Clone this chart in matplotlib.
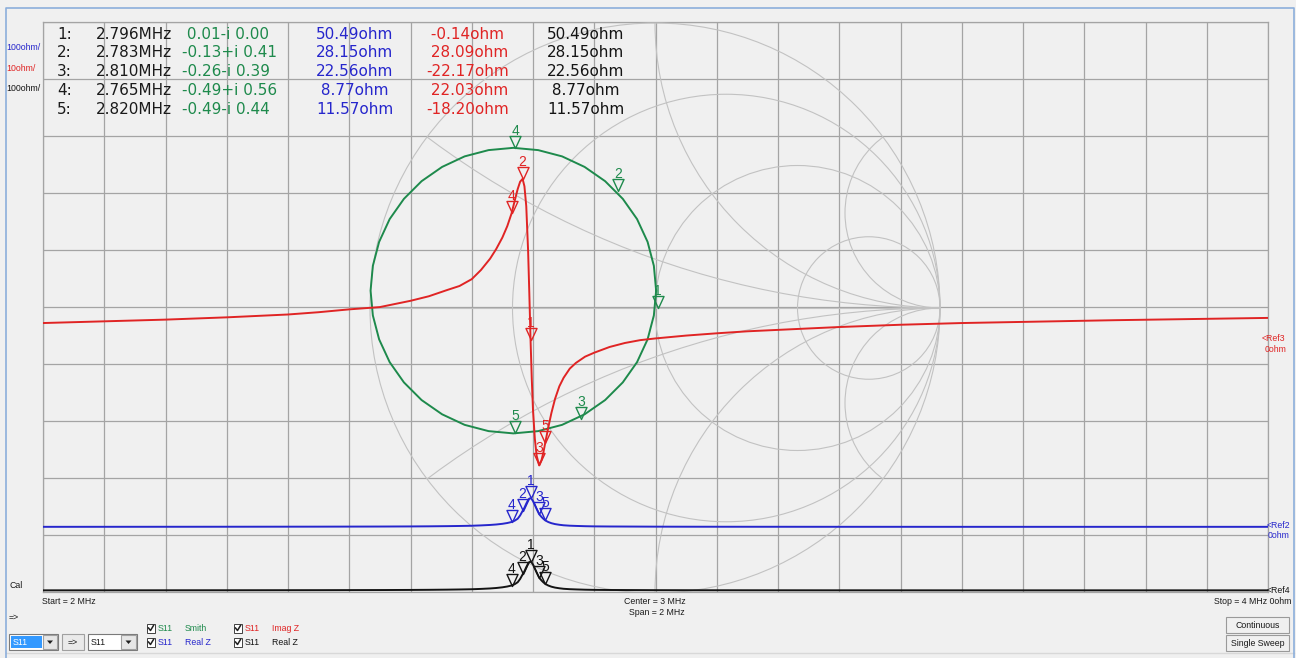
import numpy as np
import matplotlib
matplotlib.use('Agg')
import matplotlib.pyplot as plt
from matplotlib.patches import Circle, Rectangle, Polygon
from matplotlib.path import Path
from matplotlib.lines import Line2D

W, H = 1296, 658

# sweep 2..4 MHz
freq_mhz = [2.00, 2.10, 2.20, 2.30, 2.40, 2.45, 2.50, 2.55, 2.60, 2.63,
            2.66, 2.68, 2.70, 2.715, 2.73, 2.74, 2.75, 2.758, 2.765, 2.770,
            2.775, 2.779, 2.783, 2.786, 2.789, 2.792, 2.794, 2.796, 2.798, 2.800,
            2.803, 2.806, 2.810, 2.814, 2.817, 2.820, 2.825, 2.830, 2.836, 2.843,
            2.850, 2.86, 2.87, 2.885, 2.90, 2.925, 2.95, 2.975, 3.00, 3.05,
            3.10, 3.15, 3.20, 3.30, 3.40, 3.50, 3.75, 4.00]
imag_z = [2.8, 3.1, 3.4, 3.8, 4.3, 4.7, 5.2, 5.6, 6.7, 7.5,
          8.6, 9.3, 10.5, 12.1, 14.1, 15.8, 17.8, 19.8, 22.03, 24.2,
          26.3, 27.6, 28.09, 26.8, 23.3, 15.5, 8.0, -0.14, -7.0, -12.5,
          -17.5, -20.5, -22.17, -21.2, -19.9, -18.20, -15.5, -13.0, -10.5, -8.3,
          -6.8, -5.2, -4.2, -3.1, -2.4, -1.4, -0.7, -0.2, 0.1, 0.6,
          1.0, 1.35, 1.6, 2.1, 2.5, 2.8, 3.3, 3.7]
real_z = [0.3, 0.35, 0.4, 0.45, 0.55, 0.6, 0.7, 0.8, 1.0, 1.2,
          1.5, 1.8, 2.2, 2.8, 3.6, 4.4, 5.6, 7.0, 8.77, 11.0,
          14.5, 20.3, 28.15, 33.8, 41.0, 47.3, 49.9, 50.49, 48.8, 45.5,
          38.4, 31.4, 22.56, 17.5, 14.3, 11.57, 8.7, 6.7, 5.1, 3.9,
          3.0, 2.3, 1.9, 1.4, 1.1, 0.9, 0.8, 0.7, 0.6, 0.5,
          0.45, 0.42, 0.4, 0.35, 0.33, 0.3, 0.3, 0.3]

# S11 on the smith chart (reflection coefficient)
smith_re = [0.004, -0.004, -0.026, -0.063, -0.113, -0.175, -0.247, -0.326, -0.410, -0.497,
            -0.584, -0.668, -0.747, -0.819, -0.881, -0.931, -0.968, -0.990, -0.998, -0.990,
            -0.968, -0.931, -0.881, -0.819, -0.747, -0.668, -0.584, -0.497, -0.410, -0.326,
            -0.247, -0.175, -0.113, -0.063, -0.026, -0.004, 0.004]
smith_im = [0.061, 0.148, 0.232, 0.312, 0.383, 0.445, 0.495, 0.532, 0.554, 0.562,
            0.554, 0.532, 0.495, 0.445, 0.383, 0.312, 0.232, 0.148, 0.061, -0.026,
            -0.110, -0.190, -0.261, -0.323, -0.373, -0.410, -0.432, -0.440, -0.432, -0.410,
            -0.373, -0.323, -0.261, -0.190, -0.110, -0.026, 0.061]

# markers 1..5
marker_freq = [2.796, 2.783, 2.810, 2.765, 2.820]
marker_g_re = [0.01, -0.13, -0.26, -0.49, -0.49]
marker_g_im = [-0.00, 0.41, -0.39, 0.56, -0.44]
marker_real = [50.49, 28.15, 22.56, 8.77, 11.57]
marker_imag = [-0.14, 28.09, -22.17, 22.03, -18.20]

smith_r = [1 / 3, 1, 3]
smith_x = [1 / 3, 1, 3]

bg = '#F0F0F0'
gridc = '#A4A4A4'
smithc = '#C2C2C2'
green = '#1E8A4C'
red = '#E02424'
blue = '#2626CC'
black = '#141414'
ui = 'Liberation Sans'


def fx(x):
    return x / W


def fy(y):
    return 1 - y / H


fig = plt.figure(figsize=(W / 100, H / 100), dpi=100, facecolor=bg)

# plot area in screen pixels
L, T, Rr, B = 43, 22, 1268, 592
rect = [fx(L), fy(B), (Rr - L) / W, (B - T) / H]

ax = fig.add_axes(rect)
ax.set_facecolor(bg)
ax.set_xlim(2, 4)
ax.set_ylim(0, 10)
ax.set_xticks(np.linspace(2, 4, 21))
ax.set_yticks(range(11))
ax.tick_params(length=0, labelbottom=False, labelleft=False)
ax.grid(True, color=gridc, lw=0.9)
for s in ax.spines.values():
    s.set_color(gridc)
    s.set_linewidth(0.9)

# smith chart overlay, center at 3 MHz / mid height
cx, cy, R = 655, 308, 285
axs = fig.add_axes(rect)
axs.set_xlim((L - cx) / R, (Rr - cx) / R)
axs.set_ylim((cy - B) / R, (cy - T) / R)
axs.axis('off')
axs.add_patch(Circle((0, 0), 1, fill=False, ec=smithc, lw=0.8))
for r in smith_r:
    axs.add_patch(Circle((r / (1 + r), 0), 1 / (1 + r), fill=False, ec=smithc, lw=0.8))
clip = Circle((0, 0), 1, transform=axs.transData)
for xv in smith_x:
    for sg in (1, -1):
        c = Circle((1, sg / xv), 1 / xv, fill=False, ec=smithc, lw=0.8)
        axs.add_patch(c)
        c.set_clip_path(clip)
axs.plot([-1, 1], [0, 0], color=smithc, lw=0.8)

tri = Path([(0, 0), (-0.46, 1), (0.46, 1), (0, 0)],
           [Path.MOVETO, Path.LINETO, Path.LINETO, Path.CLOSEPOLY])


def markers(a, xs, ys, col):
    a.plot(xs, ys, ls='none', marker=tri, ms=17.3, mfc='none', mec=col, mew=1.0, zorder=5)
    for i, (xv, yv) in enumerate(zip(xs, ys)):
        a.annotate(str(i + 1), (xv, yv), xytext=(0, 13), textcoords='offset pixels',
                   ha='center', va='baseline', color=col, fontsize=10, family=ui, zorder=6)


axs.plot(smith_re, smith_im, color=green, lw=1.4)
markers(axs, marker_g_re, marker_g_im, green)

# Imag Z: 10 ohm/div, ref at y=339
axr = fig.add_axes(rect)
axr.set_xlim(2, 4)
axr.set_ylim(-(B - 339) / 5.7, (339 - T) / 5.7)
axr.axis('off')
axr.plot(freq_mhz, imag_z, color=red, lw=1.4)
markers(axr, marker_freq, marker_imag, red)

# Real Z: 100 ohm/div, ref at y=527
axb = fig.add_axes(rect)
axb.set_xlim(2, 4)
axb.set_ylim(-(B - 527) / 0.57, (527 - T) / 0.57)
axb.axis('off')
axb.plot(freq_mhz, real_z, color=blue, lw=1.4)
markers(axb, marker_freq, marker_real, blue)

# Real Z again, ref at bottom
axk = fig.add_axes(rect)
axk.set_xlim(2, 4)
axk.set_ylim(-(B - 590.5) / 0.57, (590.5 - T) / 0.57)
axk.axis('off')
axk.plot(freq_mhz, real_z, color=black, lw=1.4)
markers(axk, marker_freq, marker_real, black)


def txt(x, y, s, col='#1A1A1A', size=6.3, ha='left', fam=ui, cap=0.716):
    # y is the visual middle of the capitals
    base = y + cap * size * 100 / 72 / 2
    fig.text(fx(x), fy(base), s, color=col, fontsize=size, ha=ha, va='baseline', family=fam)


# marker table
for i in range(5):
    y = 33 + 18.9 * i
    im = marker_g_im[i]
    sign = '-' if np.signbit(im) else '+'
    tf = dict(size=11, fam='DejaVu Sans', cap=0.73)
    txt(57, y, f"{i + 1}:", **tf)
    txt(96, y, f"{marker_freq[i]:.3f}MHz", **tf)
    txt(182, y, f"{marker_g_re[i]:5.2f}{sign}i {abs(im):.2f}", col=green, **tf)
    txt(316, y, f"{marker_real[i]:5.2f}ohm", col=blue, **tf)
    txt(426, y, f"{marker_imag[i]:6.2f}ohm", col=red, **tf)
    txt(547, y, f"{marker_real[i]:5.2f}ohm", col=black, **tf)

# scale labels
txt(6, 47, "100ohm/", col=blue)
txt(6, 68, "10ohm/", col=red)
txt(6, 88, "100ohm/", col=black)
txt(1262, 338, "<Ref3", col=red)
txt(1265, 349, "0ohm", col=red)
txt(1267, 525, "<Ref2", col=blue)
txt(1268, 535, "0ohm", col=blue)
txt(1267, 590, "<Ref4", col=black)

txt(9, 585, "Cal")
txt(42, 601, "Start = 2 MHz")
txt(655, 601, "Center = 3 MHz", ha='center')
txt(657, 612, "Span = 2 MHz", ha='center')
txt(1291, 601, "Stop = 4 MHz 0ohm", ha='right')
txt(9, 617, "=>")


def box(x0, y0, x1, y1, fc, ec, lw=0.8):
    fig.add_artist(Rectangle((fx(x0), fy(y1)), (x1 - x0) / W, (y1 - y0) / H,
                             transform=fig.transFigure, fc=fc, ec=ec, lw=lw))


def arrow(xc, yc):
    fig.add_artist(Polygon([(fx(xc - 3), fy(yc - 1.5)), (fx(xc + 3), fy(yc - 1.5)), (fx(xc), fy(yc + 2))],
                           closed=True, transform=fig.transFigure, fc='#202020', ec='none'))


def check(x, y, col1, lab1, lab2):
    box(x, y - 4.5, x + 8, y + 4.5, 'white', '#404040', 0.7)
    fig.add_artist(Line2D([fx(x + 1.5), fx(x + 3.5), fx(x + 6.5)], [fy(y), fy(y + 2.5), fy(y - 2.5)],
                          transform=fig.transFigure, color='#202020', lw=1.1))
    txt(x + 11, y, lab1, col=col1)
    txt(x + 38, y, lab2, col=col1)


check(147, 628, green, "S11", "Smith")
check(147, 642, blue, "S11", "Real Z")
check(234, 628, red, "S11", "Imag Z")
check(234, 642, black, "S11", "Real Z")

# combo boxes and buttons
box(9, 634, 58, 650, 'white', '#7A7A7A')
box(11, 636, 42, 648, '#3399FF', 'none')
txt(13, 642, "S11", col='white')
box(43, 635, 57, 649, '#E6E6E6', '#A0A0A0')
arrow(50, 642)
box(62, 634, 84, 650, '#EAEAEA', '#A0A0A0')
txt(73, 642, "=>", ha='center')
box(88, 634, 137, 650, 'white', '#7A7A7A')
txt(91, 642, "S11")
box(121, 635, 136, 649, '#E6E6E6', '#A0A0A0')
arrow(128.5, 642)

box(1226, 617, 1289, 633, '#F0F0F0', '#9A9A9A')
txt(1257.5, 625, "Continuous", ha='center')
box(1226, 635, 1289, 651, '#F0F0F0', '#9A9A9A')
txt(1257.5, 643, "Single Sweep", ha='center')

# window frame
fig.add_artist(Line2D([fx(6), fx(1294)], [fy(653), fy(653)], transform=fig.transFigure, color='#D8D8D8', lw=1))
fig.add_artist(Line2D([fx(6), fx(6), fx(1294), fx(1294)], [fy(658), fy(8), fy(8), fy(658)],
                      transform=fig.transFigure, color='#8CAEDB', lw=1.2))

fig.savefig('out.png', dpi=100, facecolor=bg)
